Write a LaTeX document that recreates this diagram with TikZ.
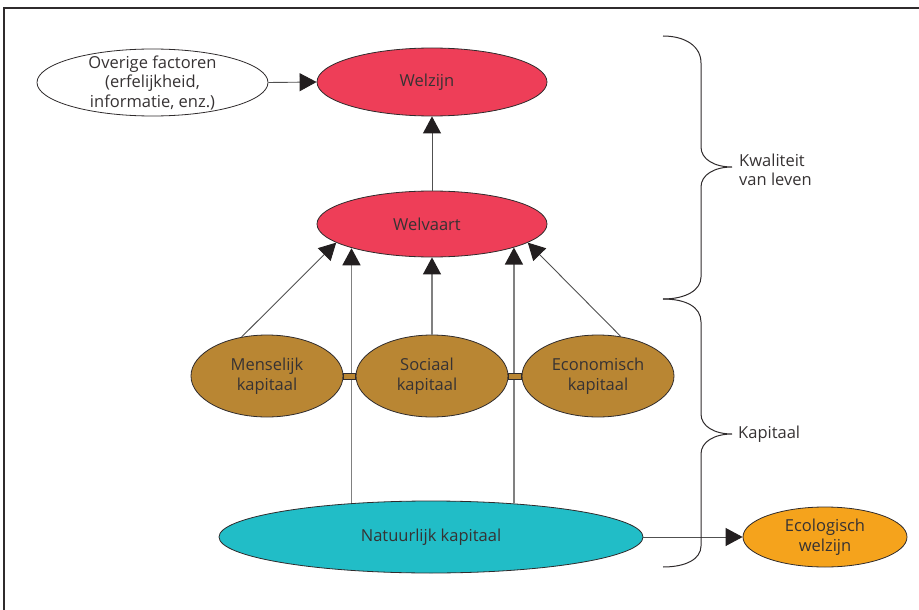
\documentclass[tikz,border=0pt]{standalone}
\usepackage{fontspec}
\setmainfont{Open Sans}
\usetikzlibrary{shapes.geometric,arrows.meta}
\definecolor{wred}{HTML}{EE3E58}
\definecolor{wbrown}{HTML}{B98633}
\definecolor{wteal}{HTML}{21BDC7}
\definecolor{worange}{HTML}{F5A31C}
\definecolor{edgec}{HTML}{2F2B2C}
\definecolor{linec}{HTML}{505050}
\definecolor{vlinec}{HTML}{808080}
\definecolor{tipc}{HTML}{231F20}
\definecolor{txtc}{HTML}{363233}
\begin{document}
\begin{tikzpicture}[x=1pt,y=-1pt,
  ell/.style={ellipse, draw=edgec, line width=0.8pt, inner sep=0pt},
  txt/.style={font=\fontsize{16.5}{19.5}\selectfont, text=txtc, align=center, inner sep=0pt},
  arr/.style={draw=linec, line width=0.9pt, -{Triangle[length=17pt,width=18pt,color=tipc]}},
  varr/.style={draw=vlinec, line width=1.2pt, -{Triangle[length=17pt,width=18pt,color=tipc]}},
  brace/.style={draw=edgec, line width=1pt},
  bar/.style={draw=edgec, line width=0.6pt, fill=wbrown},
  lbl/.style={font=\fontsize{16.5}{19.5}\selectfont, text=txtc, align=left, inner sep=0pt, anchor=west},
  frame/.style={draw=edgec, line width=1.1pt}
]
\useasboundingbox (0,0) rectangle (919,610);
% frame
\coordinate (fbl) at (4,611);
\coordinate (ftl) at (4,8);
\coordinate (ftr) at (920,8);
\draw[frame] (fbl) -- (ftl) -- (ftr);

% ellipses
\node[ell, fill=white, minimum width=231pt, minimum height=67pt] (ov) at (152.5,82.5) {};
\node[ell, fill=wred, minimum width=230pt, minimum height=68pt] (wz) at (432,82) {};
\node[ell, fill=wred, minimum width=230pt, minimum height=66pt] (wv) at (432,224) {};
\node[ell, fill=wbrown, minimum width=152pt, minimum height=82pt] (men) at (267,376) {};
\node[ell, fill=wbrown, minimum width=152pt, minimum height=82pt] (soc) at (432,376) {};
\node[ell, fill=wbrown, minimum width=152pt, minimum height=82pt] (eco) at (598,376) {};
\node[ell, fill=wteal, minimum width=424pt, minimum height=72pt] (nat) at (431,537) {};
\node[ell, fill=worange, minimum width=164pt, minimum height=60pt] (ecw) at (825,537) {};

% texts
\node[txt] (ov-t) at (ov) {Overige factoren\\(erfelijkheid,\\informatie, enz.)};
\node[txt, xshift=-5pt] (wz-t) at (wz) {Welzijn};
\node[txt, xshift=-5pt] (wv-t) at (wv) {Welvaart};
\node[txt] (men-t) at (men) {Menselijk\\kapitaal};
\node[txt, xshift=-5pt] (soc-t) at (soc) {Sociaal\\kapitaal};
\node[txt] (eco-t) at (eco) {Economisch\\kapitaal};
\node[txt] (nat-t) at (nat) {Natuurlijk kapitaal};
\node[txt] (ecw-t) at (ecw) {Ecologisch\\welzijn};

% connectors
\draw[arr] (ov.east) -- (wz.west);
\draw[arr] (wv.north) -- (wz.south);
\draw[arr] (men.123) -- (wv.191);
\draw[arr] (eco.60) -- (wv.349);
\draw[varr] (soc.north) -- (wv.south);
\draw[varr] (nat.157) -- (nat.157 |- wv.197);
\draw[varr] (nat.22) -- (nat.22 |- wv.344);
\draw[arr] (nat.east) -- (ecw.west);

% bars between capital ellipses
\path[bar] ([yshift=3pt]men.east) rectangle ([yshift=-3pt]soc.west);
\path[bar] ([yshift=3pt]soc.east) rectangle ([yshift=-3pt]eco.west);

% braces
\coordinate (b1top) at (663,36);
\coordinate (b1tip) at (732,167);
\coordinate (bmid) at (663,299);
\coordinate (b2tip) at (732,434);
\coordinate (b2bot) at (663,567);
\draw[brace] (b1top) .. controls (685,36) and (701,46) .. (701,63)
  -- (701,147) .. controls (701,159) and (714,167) .. (b1tip)
  .. controls (714,167) and (701,175) .. (701,187)
  -- (701,277) .. controls (701,290) and (686,299) .. (bmid);
\draw[brace] (bmid) .. controls (686,299) and (701,307) .. (701,322)
  -- (701,414) .. controls (701,426) and (714,434) .. (b2tip)
  .. controls (714,434) and (701,442) .. (701,454)
  -- (701,546) .. controls (701,559) and (686,567) .. (b2bot);
\node[lbl] (kvl) at ([xshift=7pt,yshift=-3pt]b1tip) {Kwaliteit\\van leven};
\node[lbl] (kap) at ([xshift=6pt]b2tip) {Kapitaal};
\end{tikzpicture}
\end{document}
